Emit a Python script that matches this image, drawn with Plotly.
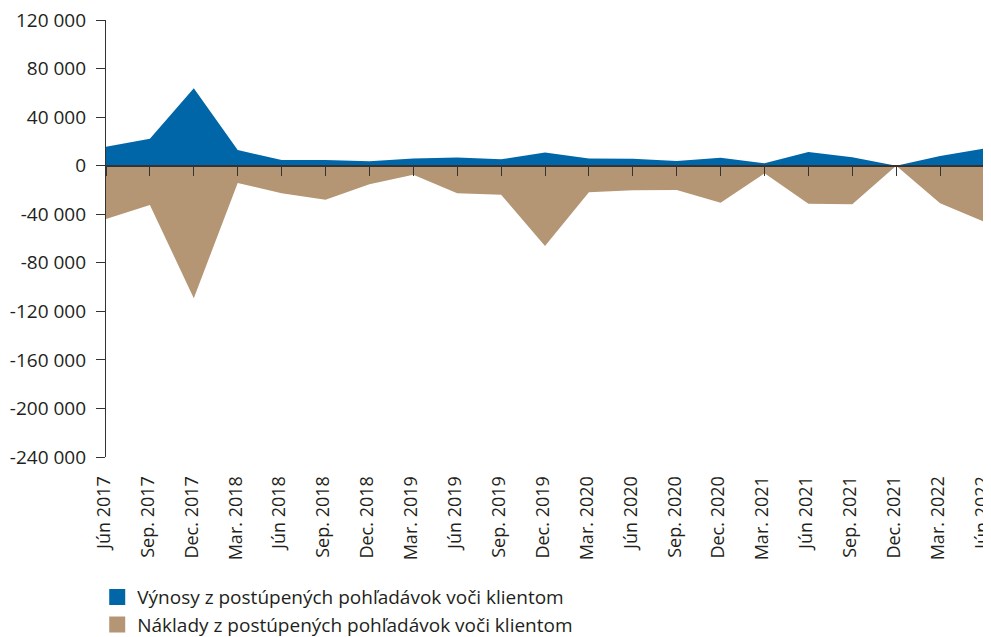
import plotly.graph_objects as go

categories = ["Jún 2017", "Sep. 2017", "Dec. 2017", "Mar. 2018", "Jún 2018", "Sep. 2018",
              "Dec. 2018", "Mar. 2019", "Jún 2019", "Sep. 2019", "Dec. 2019", "Mar. 2020",
              "Jún 2020", "Sep. 2020", "Dec. 2020", "Mar. 2021", "Jún 2021", "Sep. 2021",
              "Dec. 2021", "Mar. 2022", "Jún 2022"]

vynosy = [15600, 22200, 63700, 12900, 4700, 4700, 3600, 6000, 6800, 5200, 10800, 6000,
          5800, 3900, 6600, 2000, 11300, 6900, 0, 8000, 14000]

naklady = [-43900, -32400, -109200, -14200, -22700, -28000, -15300, -7400, -22700, -23900,
           -66100, -21900, -20300, -20000, -30500, -6300, -31300, -31800, 0, -31000, -46100]

series_names = ["Výnosy z postúpených pohľadávok voči klientom",
                "Náklady z postúpených pohľadávok voči klientom"]

ytick_vals = [120000, 80000, 40000, 0, -40000, -80000, -120000, -160000, -200000, -240000]
ytick_text = ["120 000", "80 000", "40 000", "0", "-40 000", "-80 000", "-120 000",
              "-160 000", "-200 000", "-240 000"]

BLUE = "#0066A8"
BROWN = "#B49674"
FONT = "Open Sans"
TXT = "#231f20"

fig = go.Figure()
fig.add_trace(go.Scatter(x=categories, y=vynosy, mode="lines", fill="tozeroy",
                         fillcolor=BLUE, line=dict(width=0, color=BLUE), showlegend=False))
fig.add_trace(go.Scatter(x=categories, y=naklady, mode="lines", fill="tozeroy",
                         fillcolor=BROWN, line=dict(width=0, color=BROWN), showlegend=False))
# invisible trace on the zero-line axis
fig.add_trace(go.Scatter(x=categories, y=[0] * len(categories), xaxis="x2", mode="lines",
                         line=dict(width=0), showlegend=False, hoverinfo="skip"))
# legend entries
for name, col in zip(series_names, [BLUE, BROWN]):
    fig.add_trace(go.Scatter(x=[None], y=[None], mode="markers", name=name,
                             marker=dict(symbol="square", size=16, color=col)))

# page has an 8px body margin; plot area placed so it lands where the reference has it
fig.update_layout(
    width=1010, height=660,
    margin=dict(l=98, r=34, t=12, b=211),
    paper_bgcolor="white", plot_bgcolor="white",
    font=dict(family=FONT, size=18, color=TXT),
    xaxis=dict(type="category", range=[0, 20], showgrid=False, zeroline=False,
               showline=False, ticks="outside", ticklen=11, tickcolor="rgba(0,0,0,0)",
               tickangle=-90, ticklabelstandoff=0, ticklabelshift=-2,
               ticklabeloverflow="allow", automargin=False,
               tickfont=dict(family=FONT, size=18, color=TXT)),
    xaxis2=dict(type="category", overlaying="x", matches="x", anchor="free", position=2/3,
                side="bottom", showgrid=False, zeroline=False, showline=True,
                linecolor="#333333", linewidth=1.5, ticks="outside", ticklen=10,
                tickcolor="#333333", tickwidth=1.2, showticklabels=False,
                automargin=False),
    yaxis=dict(range=[-240000, 120000], tickvals=ytick_vals, ticktext=ytick_text,
               showgrid=False, zeroline=False, showline=True, linecolor="#333333",
               linewidth=1.2, ticks="outside", ticklen=9, tickcolor="#333333",
               tickwidth=1.2, ticklabelstandoff=6, ticklabeloverflow="allow",
               automargin=False,
               tickfont=dict(family=FONT, size=19, color=TXT)),
    legend=dict(x=-0.01, y=-0.277, xanchor="left", yanchor="top", orientation="v",
                font=dict(family=FONT, size=19, color=TXT), tracegroupgap=0,
                bgcolor="rgba(0,0,0,0)"),
)

fig.write_html("out.html", config={"displayModeBar": False})
